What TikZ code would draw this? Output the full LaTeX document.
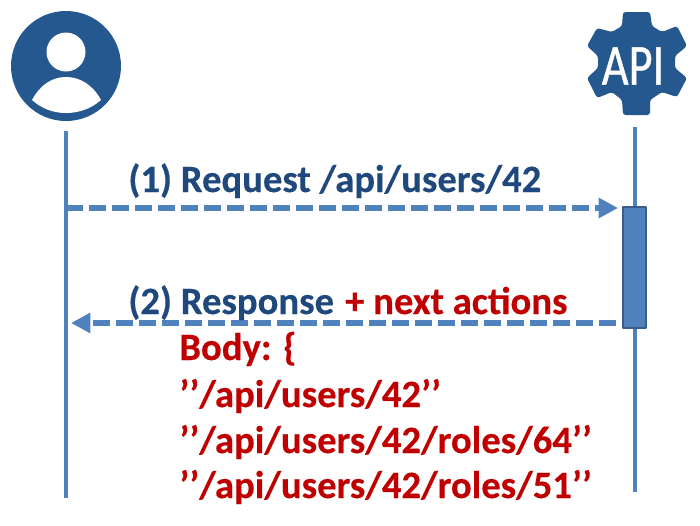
\documentclass[tikz,border=0pt]{standalone}
\usepackage{fontspec}
\setmainfont[BoldFeatures={FakeBold=0.35}]{Carlito}
\usetikzlibrary{arrows.meta,positioning}
\definecolor{iconblue}{HTML}{25588F}
\definecolor{lineblue}{HTML}{4F81BD}
\definecolor{boxedge}{HTML}{385D8A}
\definecolor{textblue}{HTML}{1F497D}
\definecolor{textred}{HTML}{C00000}
\tikzset{
  lifeline/.style={draw=lineblue,line width=1.8pt},
  message/.style={draw=lineblue,line width=3.4pt,dash pattern=on 9.7pt off 3.4pt,
    -{Triangle[length=11pt,width=11pt,fill=lineblue]}},
  label/.style={inner sep=0pt,anchor=base west,font=\fontsize{22pt}{26pt}\selectfont\bfseries},
  bluetext/.style={label,text=textblue},
  redtext/.style={label,text=textred},
}
\begin{document}
\begin{tikzpicture}[x=0.02cm,y=-0.02cm,line join=round]
  \useasboundingbox (0,0) rectangle (700,525);
  % user icon
  \fill[iconblue] (66,66) circle (55);
  \fill[white] (66,52) circle (19.5);
  \fill[white] (32,100) .. controls (40,85) and (52,77) .. (66,77)
    .. controls (80,77) and (93,85) .. (101,100)
    .. controls (92,108) and (80,113) .. (66,113)
    .. controls (52,113) and (41,108) .. (32,100) -- cycle;
  % gear icon
  \fill[iconblue,rounded corners=1.5pt] (623,12) -- (650,12) -- (652,26) -- (662,32)
    -- (677,26) -- (687,46) -- (675,56) -- (675,68) -- (687,78) -- (677,97)
    -- (662,92) -- (650,100) -- (650,115) -- (623,115) -- (622,100) -- (612,92)
    -- (597,98) -- (587,78) -- (598,68) -- (598,56) -- (587,46) -- (597,28)
    -- (612,32) -- (622,26) -- cycle;
  \node[inner sep=0pt,text=white,xscale=0.8,transform shape,
    font=\fontsize{33pt}{33pt}\selectfont\addfontfeature{FakeBold=0.8}] (api) at (633,66) {API};
  % lifelines
  \coordinate (usertop) at (66,131);
  \coordinate (userend) at (66,498);
  \coordinate (apitop) at (635,127);
  \coordinate (apiend) at (635,492);
  \draw[lifeline] (usertop) -- (userend);
  \draw[lifeline] (apitop) -- (apiend);
  \node[draw=boxedge,fill=lineblue,line width=1pt,minimum width=23*0.02cm,minimum height=121*0.02cm,
    inner sep=0pt] (exec) at (634.5,267.5) {};
  % messages
  \coordinate (reqstart) at (66,208);
  \coordinate (reqend) at (618,208);
  \coordinate (respstart) at (616,323);
  \coordinate (respend) at (71,323);
  \draw[message] (reqstart) -- (reqend);
  \draw[message] (respstart) -- (respend);
  % labels
  \node[bluetext] (req) at (128,192) {(1) Request /api/users/42};
  \node[bluetext] (resp) at (128,314) {(2) Response};
  \node[redtext,right=6pt of resp.base east,anchor=base west] (next) {+ next actions};
  \node[redtext] (body) at (179,360) {Body: \{};
  \node[redtext] (linka) at (179,407) {’’/api/users/42’’};
  \node[redtext] (linkb) at (179,453) {’’/api/users/42/roles/64’’};
  \node[redtext] (linkc) at (179,498) {’’/api/users/42/roles/51’’};
\end{tikzpicture}
\end{document}
